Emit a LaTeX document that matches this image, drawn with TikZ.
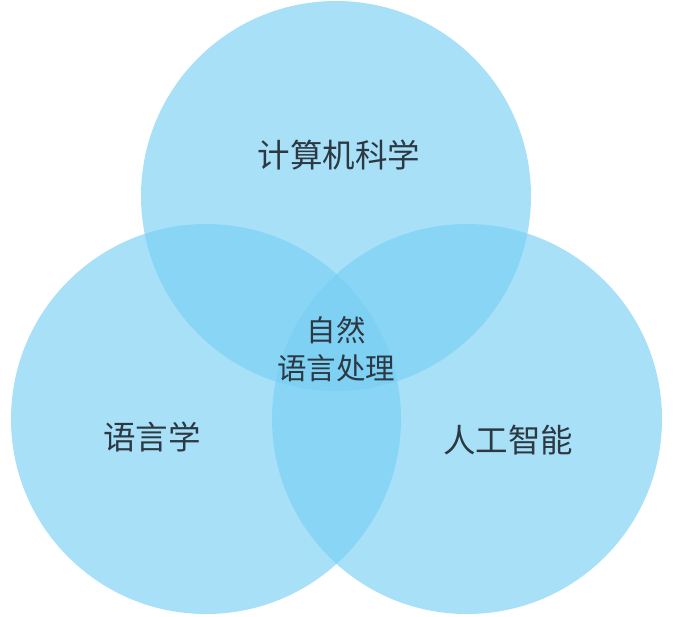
\documentclass[tikz,border=0pt]{standalone}
\usepackage{fontspec}
\newfontfamily\cjk{Noto Sans CJK SC}
\definecolor{vennblue}{RGB}{121,207,244}
\definecolor{labelgray}{RGB}{44,56,66}
\begin{document}
\begin{tikzpicture}[x=1pt,y=-1pt,
  venn/.style={circle,fill=vennblue,fill opacity=0.65,minimum size=390pt,inner sep=0pt,draw=none},
  lbl/.style={text=labelgray,font=\cjk\fontsize{32.5}{38}\selectfont,inner sep=0pt},
  lblc/.style={text=labelgray,font=\cjk\fontsize{29.5}{38}\selectfont,align=center,inner sep=0pt}]
\useasboundingbox (0,0) rectangle (676,616);
\node[venn] (cs) at (336,196) {};
\node[venn] (ling) at (206,419) {};
\node[venn] (ai) at (467,419) {};
\node[lbl] (tcs) at (339,155) {计算机科学};
\node[lbl] (tling) at (152,437) {语言学};
\node[lbl] (tai) at (508,440) {人工智能};
\node[lblc] (tnlp) at (336,349) {自然\\语言处理};
\end{tikzpicture}
\end{document}
